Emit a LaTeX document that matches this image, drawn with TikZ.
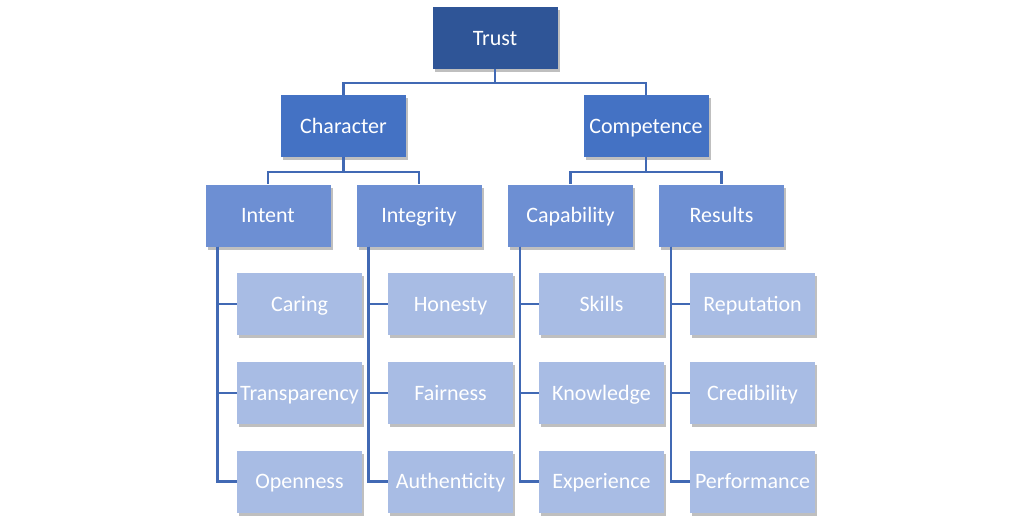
\documentclass[tikz,border=0pt]{standalone}
\usepackage{fontspec}
\setmainfont{Carlito}
\usetikzlibrary{shadows}
\definecolor{trustblue}{HTML}{2F5597}
\definecolor{midblue}{HTML}{4472C4}
\definecolor{lightblue}{HTML}{6D8FD3}
\definecolor{paleblue}{HTML}{A8BCE4}
\definecolor{wireblue}{HTML}{4169B4}
\tikzset{
  card/.style={minimum width=125pt,minimum height=62pt,inner sep=0pt,text=white,
    font=\fontsize{22}{26}\selectfont,text height=14pt,text depth=0pt,
    drop shadow={shadow xshift=2pt,shadow yshift=-3pt,fill=black,opacity=.25}},
  wire/.style={draw=wireblue,line width=2.4pt}
}
\begin{document}
\begin{tikzpicture}[x=1pt,y=-1pt]
  \useasboundingbox[fill=white] (0,0) rectangle (1024,528);
  % top two levels
  \node [card,fill=trustblue] (trust) at (495,38) {Trust};
  \node [card,fill=midblue] (char) at (343.5,126) {Character};
  \node [card,fill=midblue] (comp) at (646,126) {Competence};
  \node [card,fill=lightblue] (intent) at (268,215.5) {Intent};
  \node [card,fill=lightblue] (integ) at (419,215.5) {Integrity};
  \node [card,fill=lightblue] (capab) at (570.5,215.5) {Capability};
  \node [card,fill=lightblue] (results) at (721.5,215.5) {Results};
  % leaves
  \foreach \n/\x/\y/\t in {car/299.5/304/Caring, tra/299.5/393/Transparency, ope/299.5/481.5/Openness,
      hon/450.5/304/Honesty, fai/450.5/393/Fairness, aut/450.5/481.5/Authenticity,
      ski/601.5/304/Skills, kno/601.5/393/Knowledge, exp/601.5/481.5/Experience,
      rep/752.5/304/Reputation, cre/752.5/393/Credibility, per/752.5/481.5/Performance}
    \node [card,fill=paleblue] (\n) at (\x,\y) {\t};
  % connectors
  \draw [wire] (trust.south) -- ++(0,14) -| (char.north);
  \draw [wire] (trust.south) -- ++(0,14) -| (comp.north);
  \draw [wire] (char.south) -- ++(0,15) -| (intent.north);
  \draw [wire] (char.south) -- ++(0,15) -| (integ.north);
  \draw [wire] (comp.south) -- ++(0,15) -| (capab.north);
  \draw [wire] (comp.south) -- ++(0,15) -| (results.north);
  \foreach \p/\a/\b/\c in {intent/car/tra/ope, integ/hon/fai/aut, capab/ski/kno/exp, results/rep/cre/per}{
    \draw [wire] ([xshift=12pt]\p.south west) |- (\c.west);
    \draw [wire] ([xshift=12pt]\p.south west) |- (\a.west);
    \draw [wire] ([xshift=12pt]\p.south west) |- (\b.west);
  }
\end{tikzpicture}
\end{document}
